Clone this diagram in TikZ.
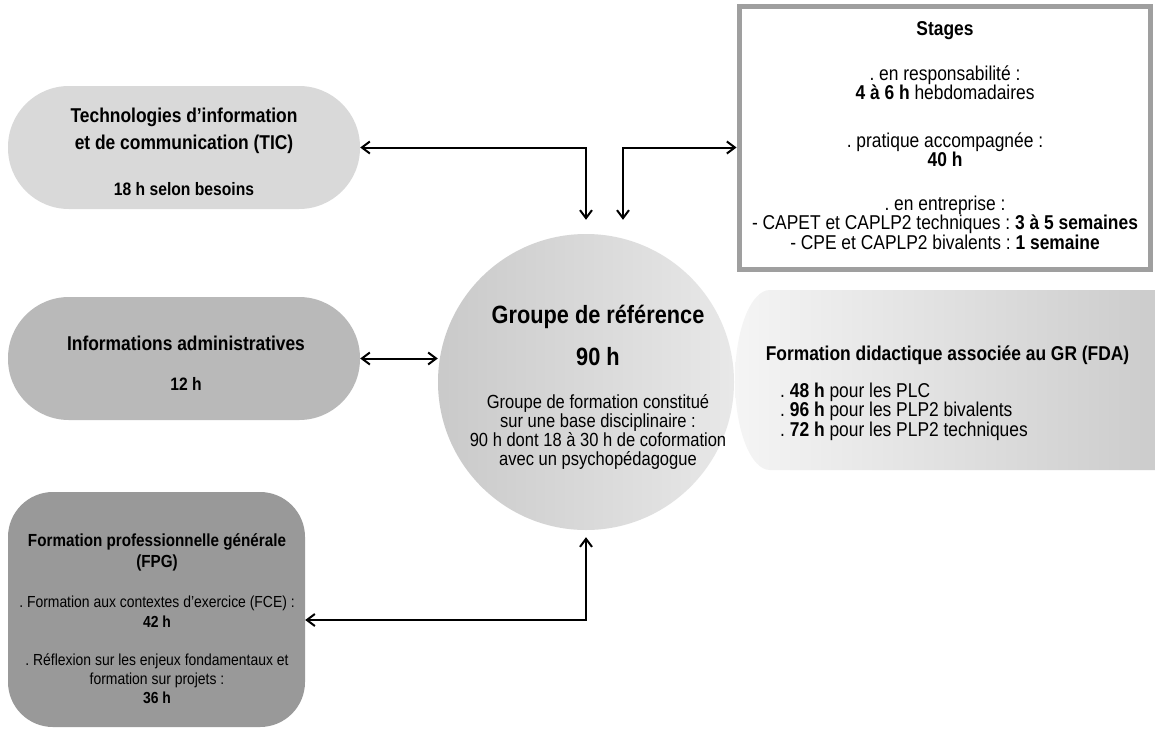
\documentclass[tikz,border=0pt]{standalone}
\usepackage{fontspec}
\setmainfont{Liberation Sans}[FakeStretch=0.87]
\usetikzlibrary{arrows.meta}
\newcommand\fsz[1]{\fontsize{#1}{#1}\selectfont}
\frenchspacing
\tikzset{
  txt/.style={inner sep=0pt, anchor=base, font=\frenchspacing},
  txtl/.style={inner sep=0pt, anchor=base west, font=\frenchspacing},
  arr/.style={line width=2pt, {Straight Barb[length=8pt,width=12pt]}-{Straight Barb[length=8pt,width=12pt]}},
  stad/.style={rectangle, rounded corners=61pt, minimum width=352pt, minimum height=123pt, inner sep=0pt},
}
\begin{document}
\begin{tikzpicture}[x=1pt,y=-1pt]
\path[use as bounding box, fill=white] (0,0) rectangle (1155,731);

% FDA background shape
\shade[left color=gray!8, right color=gray!40]
  (1155,290) -- (770,290) .. controls (750.7,290) and (735,330.3) .. (735,380)
  .. controls (735,429.7) and (750.7,470) .. (770,470) -- (1155,470) -- cycle;

% main shapes
\node[circle, minimum size=296pt, inner sep=0pt, left color=gray!42, right color=gray!18] (gr) at (586,382) {};
\node[stad, fill=gray!30] (tic) at (184,147.5) {};
\node[stad, fill=gray!55] (admin) at (184,358.5) {};
\node[rectangle, rounded corners=45pt, minimum width=297pt, minimum height=235pt, inner sep=0pt, fill=gray!80] (fpg) at (156.5,609.5) {};
\node[rectangle, draw=gray!75, line width=5pt, fill=white, minimum width=411pt, minimum height=262.5pt, inner sep=0pt] (stages) at (944.5,137.75) {};

% connectors
\coordinate (grn2) at ([xshift=37pt,yshift=14pt]gr.north);
\draw[arr] (tic.east) -| ([yshift=14pt]gr.north);
\draw[arr] (grn2) |- (stages.west |- tic.east);
\draw[arr] (admin.east) -- (admin.east -| gr.west);
\draw[arr] ([yshift=-10.5pt]fpg.east) -| ([yshift=-7pt]gr.south);

% TIC text
\node[txt] (tic1) at (184,122) {\fsz{20}\bfseries Technologies d’information};
\node[txt] (tic2) at (184,149) {\fsz{20}\bfseries et de communication (TIC)};
\node[txt] (tic3) at (184,195) {\fsz{18}\bfseries 18 h selon besoins};

% admin text
\node[txt] (adm1) at (186,350) {\fsz{20}\bfseries Informations administratives};
\node[txt] (adm2) at (186,390) {\fsz{18}\bfseries 12 h};

% GR text
\node[txt] (gr1) at (598,323) {\fsz{25}\bfseries Groupe de référence};
\node[txt] (gr2) at (598,365) {\fsz{25}\bfseries 90 h};
\node[txt] (gr3) at (598,408) {\fsz{19}Groupe de formation constitué};
\node[txt] (gr4) at (598,427) {\fsz{19}sur une base disciplinaire :};
\node[txt] (gr5) at (598,446) {\fsz{19}90 h dont 18 à 30 h de coformation};
\node[txt] (gr6) at (598,465) {\fsz{19}avec un psychopédagogue};

% Stages text
\node[txt] (st1) at (945,35) {\fsz{20}\bfseries Stages};
\node[txt] (st2) at (945,80) {\fsz{20}. en responsabilité :};
\node[txt] (st3) at (945,99.5) {\fsz{20}\textbf{4 à 6 h} hebdomadaires};
\node[txt] (st4) at (945,147) {\fsz{20}. pratique accompagnée :};
\node[txt] (st5) at (945,166.5) {\fsz{20}\textbf{40 h}};
\node[txt] (st6) at (945,210) {\fsz{20}. en entreprise :};
\node[txt] (st7) at (945,229.5) {\fsz{20}- CAPET et CAPLP2 techniques : \textbf{3 à 5 semaines}};
\node[txt] (st8) at (945,249) {\fsz{20}- CPE et CAPLP2 bivalents : \textbf{1 semaine}};

% FDA text
\node[txt] (fda1) at (947.5,360) {\fsz{20}\bfseries Formation didactique associée au GR (FDA)};
\node[txtl] (fda2) at (780,397) {\fsz{20}. \textbf{48 h} pour les PLC};
\node[txtl] (fda3) at (780,416.5) {\fsz{20}. \textbf{96 h} pour les PLP2 bivalents};
\node[txtl] (fda4) at (780,436) {\fsz{20}. \textbf{72 h} pour les PLP2 techniques};

% FPG text
\node[txt] (fpg1) at (157,546) {\fsz{17.5}\bfseries Formation professionnelle générale};
\node[txt] (fpg2) at (157,567) {\fsz{17.5}\bfseries (FPG)};
\node[txt] (fpg3) at (157,607) {\fsz{16}. Formation aux contextes d’exercice (FCE) :};
\node[txt] (fpg4) at (157,627) {\fsz{16}\bfseries 42 h};
\node[txt] (fpg5) at (157,665) {\fsz{16}. Réflexion sur les enjeux fondamentaux et};
\node[txt] (fpg6) at (157,684) {\fsz{16}formation sur projets :};
\node[txt] (fpg7) at (157,703) {\fsz{16}\bfseries 36 h};
\end{tikzpicture}
\end{document}
